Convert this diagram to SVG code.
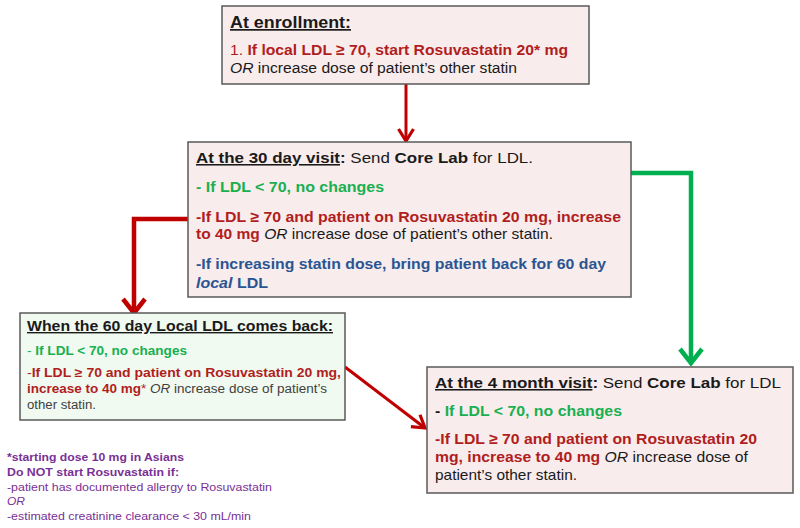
<svg xmlns="http://www.w3.org/2000/svg" width="800" height="528" viewBox="0 0 800 528">
<style>
text{font-family:"Liberation Sans",Arial,sans-serif;}
.box{fill:#F9ECEC;stroke:#595959;stroke-width:1.5;}
.boxg{fill:#F1FAF1;stroke:#595959;stroke-width:1.5;}
.b{font-weight:bold;}
.i{font-style:italic;}
.u{text-decoration:underline;}
.red{fill:#B01E1E;}
.grn{fill:#18B050;}
.blu{fill:#2A5592;}
.blk{fill:#1A1A1A;}
.gry{fill:#404040;}
.pur{fill:#7A3096;}
.lr{stroke:#C00000;fill:none;}
.lg{stroke:#00B050;fill:none;}
</style>
<defs>
<marker id="hr" markerUnits="userSpaceOnUse" viewBox="-20 -14 24 28" markerWidth="24" markerHeight="28" refX="0" refY="0" orient="auto">
<path d="M-14,-11 L0,0 L-14,11" fill="none" stroke="#C00000" stroke-width="4.5"/>
</marker>
<marker id="hg" markerUnits="userSpaceOnUse" viewBox="-20 -14 24 28" markerWidth="24" markerHeight="28" refX="0" refY="0" orient="auto">
<path d="M-14,-11 L0,0 L-14,11" fill="none" stroke="#00B050" stroke-width="4.5"/>
</marker>
<marker id="hrs" markerUnits="userSpaceOnUse" viewBox="-16 -10 20 20" markerWidth="20" markerHeight="20" refX="0" refY="0" orient="auto">
<path d="M-12,-7.5 L0,0 L-12,7.5" fill="none" stroke="#C00000" stroke-width="3.2"/>
</marker>
</defs>

<g id="connectors">
<path class="lr" stroke-width="3" d="M406,84 L406,141" marker-end="url(#hrs)"/>
<path class="lr" stroke-width="4.5" d="M188,219 L134,219 L134,313" marker-end="url(#hr)"/>
<path class="lg" stroke-width="4.5" d="M631,173 L691,173 L691,363" marker-end="url(#hg)"/>
<path class="lr" stroke-width="3" d="M345,367 L425,428" marker-end="url(#hrs)"/>
</g>

<g id="enrollment">
<rect class="box" x="222" y="6" width="367" height="78"/>
<text x="230" y="28" font-size="17" class="b u blk" textLength="121" lengthAdjust="spacingAndGlyphs">At enrollment:</text>
<text x="230" y="55" font-size="15.5" class="red" textLength="338" lengthAdjust="spacingAndGlyphs"><tspan>1. </tspan><tspan class="b">If local LDL ≥ 70, start Rosuvastatin 20* mg</tspan></text>
<text x="230" y="73" font-size="15.5" class="blk" textLength="287" lengthAdjust="spacingAndGlyphs"><tspan class="i">OR</tspan> increase dose of patient’s other statin</text>
</g>

<g id="visit30">
<rect class="box" x="188" y="142" width="443" height="155"/>
<text x="196" y="163" font-size="15.5" class="blk" textLength="337" lengthAdjust="spacingAndGlyphs"><tspan class="b u">At the 30 day visit</tspan><tspan class="b">:</tspan> Send <tspan class="b">Core Lab</tspan> for LDL.</text>
<text x="196" y="192" font-size="15" class="b grn" textLength="188" lengthAdjust="spacingAndGlyphs">- If LDL &lt; 70, no changes</text>
<text x="196" y="222" font-size="15" class="b red" textLength="425" lengthAdjust="spacingAndGlyphs">-If LDL ≥ 70 and patient on Rosuvastatin 20 mg, increase</text>
<text x="196" y="239" font-size="15" class="blk" textLength="357" lengthAdjust="spacingAndGlyphs"><tspan class="b red">to 40 mg</tspan> <tspan class="i">OR</tspan> increase dose of patient’s other statin.</text>
<text x="196" y="269" font-size="15" class="b blu" textLength="410" lengthAdjust="spacingAndGlyphs">-If increasing statin dose, bring patient back for 60 day</text>
<text x="196" y="288" font-size="15" class="b blu" textLength="72" lengthAdjust="spacingAndGlyphs"><tspan class="i">local</tspan> LDL</text>
</g>

<g id="local60">
<rect class="boxg" x="20" y="313" width="325" height="107"/>
<text x="27" y="331" font-size="14" class="b u blk" textLength="306" lengthAdjust="spacingAndGlyphs">When the 60 day Local LDL comes back:</text>
<text x="27" y="355" font-size="12.5" class="grn" textLength="160" lengthAdjust="spacingAndGlyphs">- <tspan class="b">If LDL &lt; 70, no changes</tspan></text>
<text x="27" y="377" font-size="12.5" class="red" textLength="314" lengthAdjust="spacingAndGlyphs">-<tspan class="b">If LDL ≥ 70 and patient on Rosuvastatin 20 mg,</tspan></text>
<text x="27" y="393" font-size="12.5" class="gry" textLength="300" lengthAdjust="spacingAndGlyphs"><tspan class="b red">increase to 40 mg</tspan><tspan class="red">*</tspan> <tspan class="i">OR</tspan> increase dose of patient’s</text>
<text x="27" y="409" font-size="12.5" class="gry" textLength="69" lengthAdjust="spacingAndGlyphs">other statin.</text>
</g>

<g id="month4">
<rect class="box" x="427" y="367" width="366" height="126"/>
<text x="435" y="388" font-size="15.5" class="blk" textLength="346" lengthAdjust="spacingAndGlyphs"><tspan class="b u">At the 4 month visit</tspan><tspan class="b">:</tspan> Send <tspan class="b">Core Lab</tspan> for LDL</text>
<text x="435" y="416" font-size="15" class="b grn" textLength="187" lengthAdjust="spacingAndGlyphs"><tspan class="blk">- </tspan>If LDL &lt; 70, no changes</text>
<text x="435" y="444" font-size="15" class="b red" textLength="322" lengthAdjust="spacingAndGlyphs">-If LDL ≥ 70 and patient on Rosuvastatin 20</text>
<text x="435" y="462" font-size="15" class="blk" textLength="313" lengthAdjust="spacingAndGlyphs"><tspan class="b red">mg, increase to 40 mg</tspan> <tspan class="i">OR</tspan> increase dose of</text>
<text x="435" y="480" font-size="15" class="blk" textLength="142" lengthAdjust="spacingAndGlyphs">patient’s other statin.</text>
</g>

<g id="footnote" font-size="11">
<text x="7" y="461" class="b pur" textLength="177" lengthAdjust="spacingAndGlyphs">*starting dose 10 mg in Asians</text>
<text x="7" y="476" class="b pur" textLength="172" lengthAdjust="spacingAndGlyphs">Do NOT start Rosuvastatin if:</text>
<text x="7" y="491" class="pur" textLength="265" lengthAdjust="spacingAndGlyphs">-patient has documented allergy to Rosuvastatin</text>
<text x="7" y="505" class="i pur" textLength="18" lengthAdjust="spacingAndGlyphs">OR</text>
<text x="7" y="520" class="pur" textLength="244" lengthAdjust="spacingAndGlyphs">-estimated creatinine clearance &lt; 30 mL/min</text>
</g>
</svg>
